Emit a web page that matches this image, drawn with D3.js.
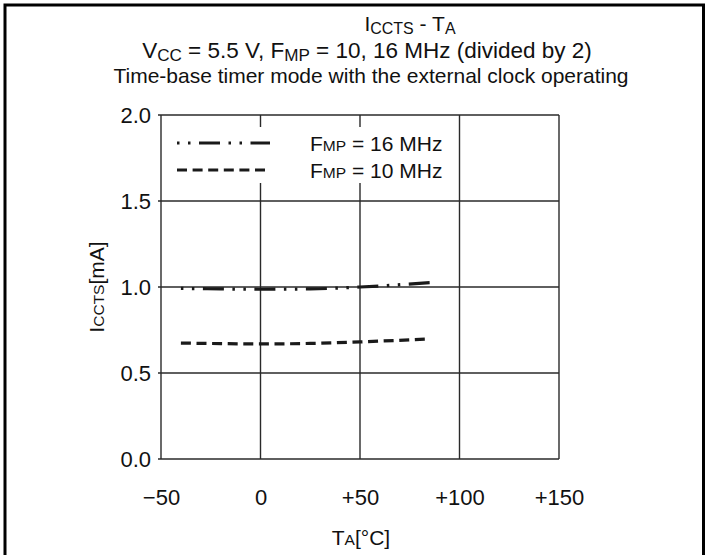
<!DOCTYPE html>
<html>
<head>
<meta charset="utf-8">
<script src="https://cdn.jsdelivr.net/npm/d3@7"></script>
<style>
  html, body { margin: 0; padding: 0; background: #fff; }
  svg { display: block; }
  text { font-family: "Liberation Sans", Arial, sans-serif; fill: #111; }
</style>
</head>
<body>
<svg id="chart" width="710" height="555"></svg>
<script>
// ---- data ----
const temps16 = [-40, -20, 0, 25, 50, 85];
const icc16   = [0.992, 0.989, 0.987, 0.989, 1.0, 1.025];
const temps10 = [-40, -20, 0, 25, 50, 85];
const icc10   = [0.674, 0.671, 0.669, 0.672, 0.681, 0.698];
const xTicks = [-50, 0, 50, 100, 150];
const xTickLabels = ["\u221250", "0", "+50", "+100", "+150"];
const yTicks = [0, 0.5, 1.0, 1.5, 2.0];
const yTickLabels = ["0.0", "0.5", "1.0", "1.5", "2.0"];
const seriesNames = ["16 MHz", "10 MHz"];

const svg = d3.select("#chart");
const FS = 21;
const TFS = 22;
const ink = "#2a2a2a";

// outer frame
svg.append("rect").attr("x", 5).attr("y", 5).attr("width", 698.5).attr("height", 570)
  .attr("fill", "none").attr("stroke", "#000").attr("stroke-width", 3);

const x = d3.scaleLinear().domain([-50, 150]).range([161, 559]);
const y = d3.scaleLinear().domain([0, 2]).range([459, 115]);

// grid
const g = svg.append("g");
g.selectAll(".vg").data(xTicks).enter().append("line")
  .attr("x1", d => x(d)).attr("x2", d => x(d)).attr("y1", y(2)).attr("y2", y(0))
  .attr("stroke", ink).attr("stroke-width", 1.4);
g.selectAll(".hg").data(yTicks).enter().append("line")
  .attr("x1", x(-50) - 3).attr("x2", x(150)).attr("y1", d => y(d)).attr("y2", d => y(d))
  .attr("stroke", ink).attr("stroke-width", 1.4);

// axes tick labels via d3 axes (domain/ticks hidden)
const xAxis = d3.axisBottom(x).tickValues(xTicks).tickSize(0).tickPadding(0)
  .tickFormat((d, i) => xTickLabels[i]);
const xa = svg.append("g").attr("transform", "translate(0,505)").call(xAxis);
xa.select(".domain").remove();
xa.selectAll("text").attr("dy", 0).attr("y", 0).style("font-size", TFS + "px")
  .style("font-family", "Liberation Sans, Arial, sans-serif").attr("fill", "#111");

const yAxis = d3.axisLeft(y).tickValues(yTicks).tickSize(0).tickPadding(0)
  .tickFormat((d, i) => yTickLabels[i]);
const ya = svg.append("g").attr("transform", "translate(151,0)").call(yAxis);
ya.select(".domain").remove();
ya.selectAll("text").attr("dy", "0.36em").attr("x", 0).style("font-size", TFS + "px")
  .style("font-family", "Liberation Sans, Arial, sans-serif").attr("fill", "#111");

// legend box (white, interrupting grid)
svg.append("rect").attr("x", 165).attr("y", 127).attr("width", 288).attr("height", 56).attr("fill", "#fff");

// lines
const line = d3.line().x(d => x(d[0])).y(d => y(d[1])).curve(d3.curveMonotoneX);
const d16 = temps16.map((t, i) => [t, icc16[i]]);
const d10 = temps10.map((t, i) => [t, icc10[i]]);
const dash16 = "2.5,8.5,2.5,8.5,21,8.5";
const dash10 = "10,5.6";
svg.append("path").datum(d16).attr("d", line).attr("fill", "none")
  .attr("stroke", "#1a1a1a").attr("stroke-width", 3.2).attr("stroke-dasharray", dash16);
svg.append("path").datum(d10).attr("d", line).attr("fill", "none")
  .attr("stroke", "#1a1a1a").attr("stroke-width", 3.2).attr("stroke-dasharray", dash10);

// legend entries
const legY = [143, 170];
const legDash = [dash16, dash10];
legY.forEach((ly, i) => {
  svg.append("line").attr("x1", 177).attr("x2", 270).attr("y1", ly).attr("y2", ly)
    .attr("stroke", "#1a1a1a").attr("stroke-width", 3.2).attr("stroke-dasharray", legDash[i]);
  const t = svg.append("text").attr("x", 310).attr("y", ly).attr("dy", "0.36em")
    .style("font-size", FS + "px");
  t.append("tspan").text("F");
  t.append("tspan").style("font-size", (FS * 0.74) + "px").text("MP");
  t.append("tspan").text(" = " + seriesNames[i]);
});

// title
const t1 = svg.append("text").attr("x", 410).attr("y", 31).attr("text-anchor", "middle").style("font-size", FS + "px");
t1.append("tspan").text("I");
t1.append("tspan").attr("dy", 3).style("font-size", (FS * 0.76) + "px").text("CCTS");
t1.append("tspan").attr("dy", -3).text(" - T");
t1.append("tspan").attr("dy", 3).style("font-size", (FS * 0.76) + "px").text("A");

const FS2 = 22.5;
const t2 = svg.append("text").attr("x", 367).attr("y", 58).attr("text-anchor", "middle").style("font-size", FS2 + "px");
t2.append("tspan").text("V");
t2.append("tspan").attr("dy", 3).style("font-size", (FS2 * 0.76) + "px").text("CC");
t2.append("tspan").attr("dy", -3).text(" = 5.5 V, F");
t2.append("tspan").attr("dy", 3).style("font-size", (FS2 * 0.76) + "px").text("MP");
t2.append("tspan").attr("dy", -3).text(" = 10, 16 MHz (divided by 2)");

svg.append("text").attr("x", 371).attr("y", 83).attr("text-anchor", "middle").style("font-size", FS + "px")
  .text("Time-base timer mode with the external clock operating");

// axis titles
const xt = svg.append("text").attr("x", 361).attr("y", 545).attr("text-anchor", "middle").style("font-size", FS + "px");
xt.append("tspan").text("T");
xt.append("tspan").style("font-size", (FS * 0.74) + "px").text("A");
xt.append("tspan").text("[\u00B0C]");

const yt = svg.append("text").attr("transform", "translate(104,287) rotate(-90)").attr("text-anchor", "middle").style("font-size", FS + "px");
yt.append("tspan").text("I");
yt.append("tspan").style("font-size", (FS * 0.74) + "px").text("CCTS");
yt.append("tspan").text("[mA]");
</script>
</body>
</html>
